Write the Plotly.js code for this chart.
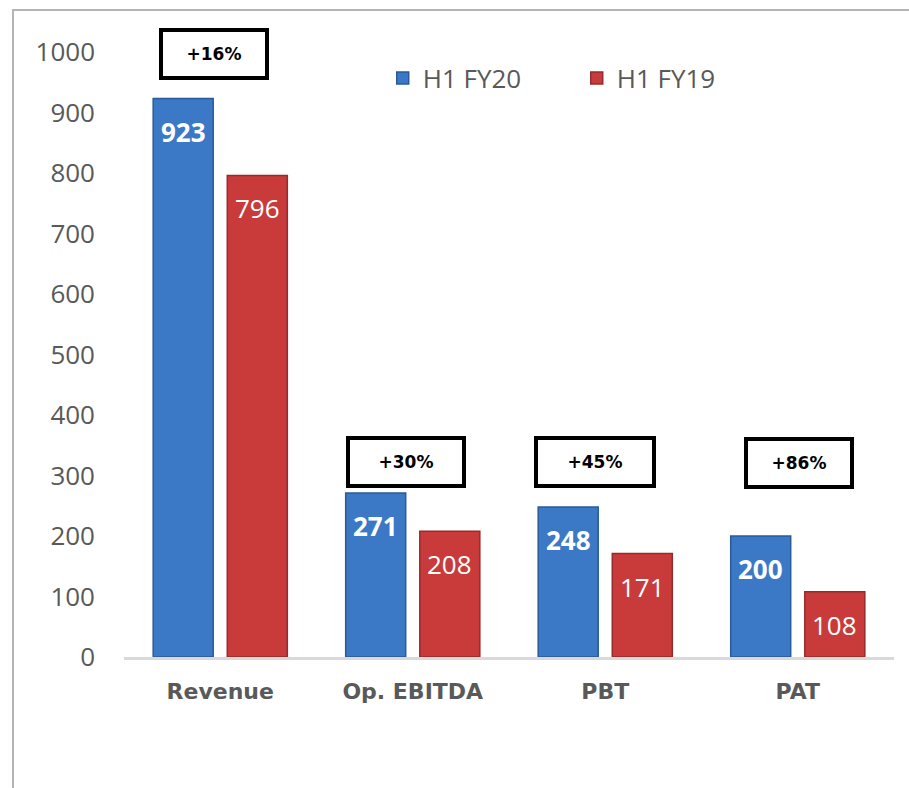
<!DOCTYPE html>
<html>
<head>
<meta charset="utf-8">
<script src="https://cdn.plot.ly/plotly-3.0.1.min.js"></script>
<style>
  html, body { margin: 0; padding: 0; background: #fff; }
  #chart { width: 909px; height: 788px; position: absolute; left: 0; top: 0; }
  /* the chart-area frame, cut off on the right and bottom */
  #frame {
    position: absolute; left: 12px; top: 9px; width: 910px; height: 790px;
    border-left: 2px solid #b4b4b4; border-top: 2px solid #b4b4b4;
    pointer-events: none;
  }
</style>
</head>
<body>
<div id="chart"></div>
<div id="frame"></div>
<script>
// data
const categories = ['Revenue', 'Op. EBITDA', 'PBT', 'PAT'];
const fy20 = [923, 271, 248, 200];
const fy19 = [796, 208, 171, 108];
const growth = ['+16%', '+30%', '+45%', '+86%'];
const yTicks = [0, 100, 200, 300, 400, 500, 600, 700, 800, 900, 1000];

// growth boxes: height (axis units) and box widths (px)
const boxY = [997, 322, 322, 321];
const boxW = [98, 108, 110, 98];
const boxShift = [-6, -7, -10, 1];

const blue = '#3b78c6';
const red = '#c93b3b';
const grey = '#595959';

const traces = [
    {
        type: 'bar', name: 'H1 FY20', x: categories, y: fy20,
        marker: { color: blue, line: { color: '#2a5a98', width: 1.5 } },
        hoverinfo: 'y'
    },
    {
        type: 'bar', name: 'H1 FY19', x: categories, y: fy19,
        marker: { color: red, line: { color: '#962b2b', width: 1.5 } },
        hoverinfo: 'y'
    }
];

const annotations = [];

// value labels inside the top of each bar
categories.forEach((c, i) => {
    annotations.push({
        x: c, y: fy20[i], xref: 'x', yref: 'y', xshift: -37, yshift: -33,
        text: String(fy20[i]), showarrow: false, yanchor: 'middle',
        font: { family: 'Open Sans', size: 26, color: '#ffffff', weight: 'bold' }
    });
    annotations.push({
        x: c, y: fy19[i], xref: 'x', yref: 'y', xshift: 37, yshift: -33,
        text: String(fy19[i]), showarrow: false, yanchor: 'middle',
        font: { family: 'Open Sans', size: 26, color: '#ffffff' }
    });
    // growth boxes
    annotations.push({
        x: c, y: boxY[i], xref: 'x', yref: 'y', xshift: boxShift[i],
        text: '<b>' + growth[i] + '</b>', showarrow: false,
        width: boxW[i], height: 40, borderpad: 2,
        bordercolor: '#000000', borderwidth: 4, bgcolor: '#ffffff',
        font: { family: 'DejaVu Sans', size: 17, color: '#000000' }
    });
});

const layout = {
    width: 909, height: 788,
    paper_bgcolor: '#ffffff', plot_bgcolor: '#ffffff',
    margin: { l: 124, r: 15, t: 52, b: 131 },
    barmode: 'group', bargap: 0.23, bargroupgap: 0.19,
    showlegend: true,
    legend: {
        orientation: 'h', x: 0.336, y: 0.957, xanchor: 'left', yanchor: 'middle',
        font: { family: 'Open Sans', size: 26, color: grey },
        bgcolor: 'rgba(0,0,0,0)', itemwidth: 30, entrywidth: 149
    },
    xaxis: {
        type: 'category', showgrid: false, zeroline: false,
        showline: true, linecolor: '#d9d9d9', linewidth: 3,
        ticks: '', ticklabelstandoff: 13,
        tickfont: { family: 'DejaVu Sans', size: 22, color: grey, weight: 'bold' }
    },
    yaxis: {
        range: [0, 1000], tickvals: yTicks, ticktext: yTicks.map(String),
        showgrid: false, zeroline: false, showline: false, ticks: '',
        ticklabelstandoff: 28,
        tickfont: { family: 'Open Sans', size: 26, color: grey }
    },
    annotations: annotations
};

Plotly.newPlot('chart', traces, layout, { displayModeBar: false, staticPlot: true });
</script>
</body>
</html>
